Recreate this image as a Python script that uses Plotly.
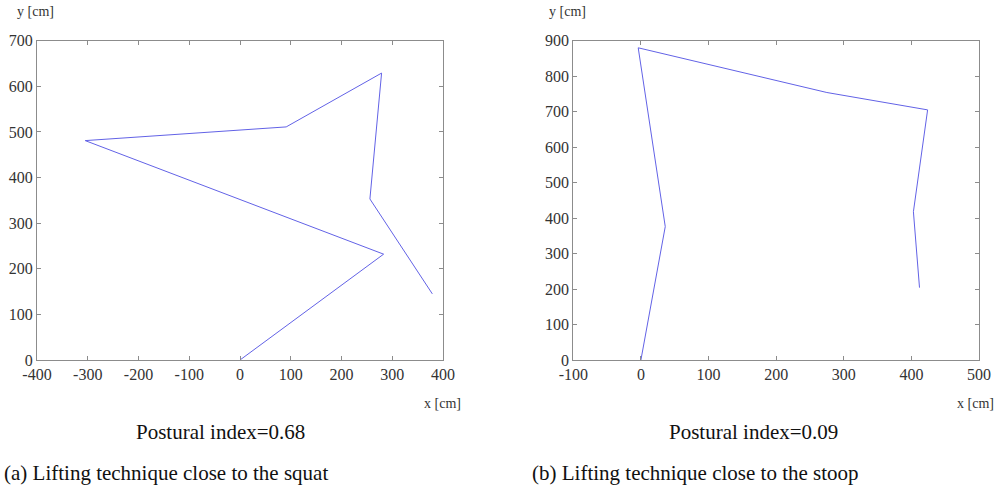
import plotly.graph_objects as go

# Joint positions traced along each lifting posture (x, y in cm)
squat_x = [0, 283, -305, 91, 279, 256, 379]
squat_y = [0, 232, 481, 511, 629, 353, 145]

stoop_x = [0, 36, -4, 275, 424, 403, 412]
stoop_y = [0, 376, 880, 754, 705, 418, 204]

x_ticks_a = [-400, -300, -200, -100, 0, 100, 200, 300, 400]
y_ticks_a = [0, 100, 200, 300, 400, 500, 600, 700]
x_ticks_b = [-100, 0, 100, 200, 300, 400, 500]
y_ticks_b = [0, 100, 200, 300, 400, 500, 600, 700, 800, 900]

index_a = 0.68
index_b = 0.09

W, H = 1000, 491
LINE = "#6262e6"
FRAME = "#8c8c8c"
SERIF = "Times New Roman, Liberation Serif, serif"
TICKFONT = dict(family=SERIF, size=16, color="#333333")


def px(x):
    return x / W


def py(y):
    return 1 - y / H


fig = go.Figure()
fig.add_trace(go.Scatter(x=squat_x, y=squat_y, mode="lines",
                         line=dict(color=LINE, width=1),
                         xaxis="x", yaxis="y", showlegend=False))
fig.add_trace(go.Scatter(x=stoop_x, y=stoop_y, mode="lines",
                         line=dict(color=LINE, width=1),
                         xaxis="x2", yaxis="y2", showlegend=False))

axis_common = dict(showline=True, linecolor=FRAME, linewidth=1, mirror="allticks",
                   ticks="inside", ticklen=4, tickcolor=FRAME, showgrid=False,
                   zeroline=False, tickfont=TICKFONT, fixedrange=True,
                   automargin=False)


def ticktext(vals):
    return [str(v) for v in vals]


y_dom = [py(360), py(40.7)]
fig.update_layout(
    width=W, height=H,
    margin=dict(l=0, r=0, t=0, b=0),
    paper_bgcolor="white", plot_bgcolor="white",
    xaxis=dict(domain=[px(37), px(443)], range=[-400, 400],
               tickvals=x_ticks_a, ticktext=ticktext(x_ticks_a), anchor="y", **axis_common),
    yaxis=dict(domain=y_dom, range=[0, 700],
               tickvals=y_ticks_a, ticktext=ticktext(y_ticks_a), anchor="x", **axis_common),
    xaxis2=dict(domain=[px(573.3), px(979)], range=[-100, 500],
                tickvals=x_ticks_b, ticktext=ticktext(x_ticks_b), anchor="y2", **axis_common),
    yaxis2=dict(domain=y_dom, range=[0, 900],
                tickvals=y_ticks_b, ticktext=ticktext(y_ticks_b), anchor="x2", **axis_common),
)

label_font = dict(family=SERIF, size=14, color="#333333")
cap_font = dict(family=SERIF, size=21, color="#111111")


def note(text, x, y, font, xanchor="center"):
    fig.add_annotation(text=text, x=px(x), y=py(y), xref="paper", yref="paper",
                       showarrow=False, font=font, xanchor=xanchor, yanchor="middle")


# axis unit labels
note("y [cm]", 15, 12, label_font, "left")
note("x [cm]", 463, 403, label_font, "right")
note("y [cm]", 547, 12, label_font, "left")
note("x [cm]", 996, 403, label_font, "right")

# postural index under each plot
note(f"Postural index={index_a:.2f}", 220, 432, cap_font)
note(f"Postural index={index_b:.2f}", 753, 432, cap_font)

# sub-figure captions
note("(a) Lifting technique close to the squat", 2, 473, cap_font, "left")
note("(b) Lifting technique close to the stoop", 530, 473, cap_font, "left")

fig.write_html("out.html")
